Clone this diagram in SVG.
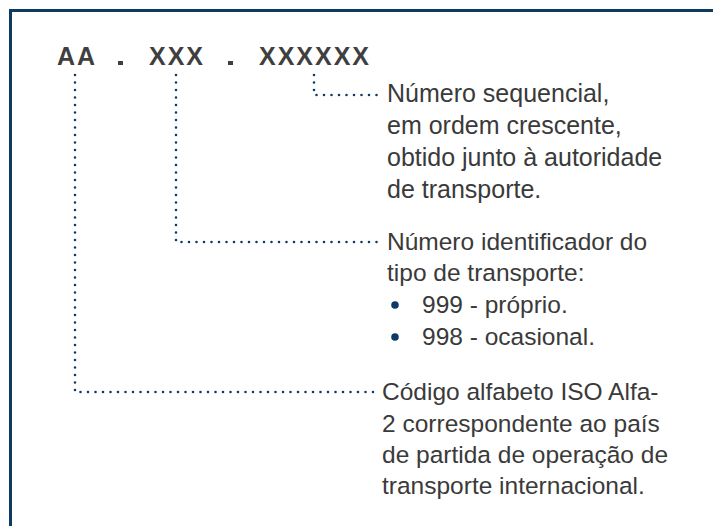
<svg xmlns="http://www.w3.org/2000/svg" width="713" height="526" viewBox="0 0 713 526">
<style>
.code{font-family:"Liberation Sans",Arial,sans-serif;font-weight:bold;font-size:25px;fill:#3f3f3f;letter-spacing:2px}
.txt{font-family:"Liberation Sans",Arial,sans-serif;font-size:24.5px;fill:#3a3a3a}
.big{font-size:25px}
.dot{fill:none;stroke:#0d3a66;stroke-width:2.6;stroke-linecap:round;stroke-dasharray:0 7.5}
.bul{fill:#0d3a66}
</style>
<rect x="0" y="0" width="713" height="526" fill="#ffffff"/>
<path d="M10.5 526 V10.5 H713" fill="none" stroke="#0e3b64" stroke-width="3"/>
<g id="code">
<text class="code" x="57" y="65">AA</text>
<rect x="118" y="61" width="5" height="4" fill="#3f3f3f"/>
<text class="code" x="149" y="65">XXX</text>
<rect x="228" y="61" width="5" height="4" fill="#3f3f3f"/>
<text class="code" x="259" y="65">XXXXXX</text>
</g>
<g id="connectors">
<path class="dot" d="M314 75 V95 H381"/>
<path class="dot" d="M176 75 V242 H381"/>
<path class="dot" d="M75 75 V392 H375"/>
</g>
<g id="node-sequencial">
<text class="txt big" x="387" y="102">Número sequencial,</text>
<text class="txt big" x="387" y="134">em ordem crescente,</text>
<text class="txt big" x="387" y="166">obtido junto à autoridade</text>
<text class="txt big" x="387" y="198">de transporte.</text>
</g>
<g id="node-tipo">
<text class="txt" x="387" y="250">Número identificador do</text>
<text class="txt" x="387" y="281">tipo de transporte:</text>
<circle class="bul" cx="395" cy="305" r="3.8"/>
<text class="txt" x="422" y="313">999 - próprio.</text>
<circle class="bul" cx="395" cy="337" r="3.8"/>
<text class="txt" x="422" y="345">998 - ocasional.</text>
</g>
<g id="node-pais">
<text class="txt" x="382" y="400">Código alfabeto ISO Alfa-</text>
<text class="txt" x="382" y="432">2 correspondente ao país</text>
<text class="txt" x="382" y="463">de partida de operação de</text>
<text class="txt" x="382" y="494">transporte internacional.</text>
</g>
</svg>
